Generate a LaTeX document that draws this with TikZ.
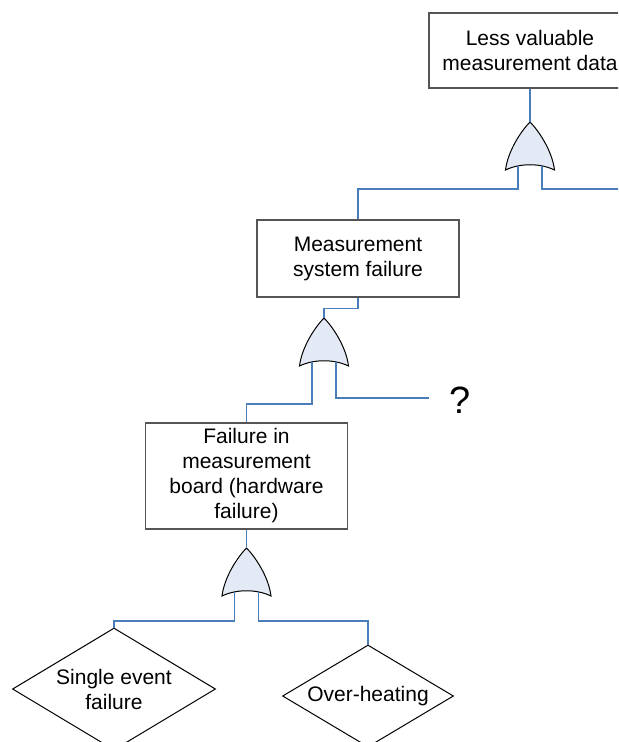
\documentclass[tikz,border=0pt]{standalone}
\usepackage{fontspec}
\setmainfont{Liberation Sans}
\usetikzlibrary{shapes.geometric}
\definecolor{wireblue}{RGB}{74,126,187}
\definecolor{gatefill}{RGB}{227,234,245}
\definecolor{boxgray}{RGB}{85,85,85}
\tikzset{
    fault event/.style={
        rectangle,
        minimum width=101pt,
        draw=boxgray,
        line width=0.6pt,
        fill=white,
        inner sep=0pt,
        align=center,
        font=\fontsize{10.5}{12.5}\selectfont
    },
    basic event/.style={
        diamond,
        aspect=1.66,
        draw=black,
        line width=0.5pt,
        fill=white,
        inner sep=0pt,
        align=center,
        font=\fontsize{10.5}{12.5}\selectfont
    },
    wire/.style={draw=wireblue, line width=0.6pt},
    qmark/.style={font=\fontsize{19}{22}\selectfont, inner sep=0pt},
    orgate/.pic={
        \draw[fill=gatefill, draw=black, line width=0.5pt]
            (0,0) .. controls (-8,8) and (-22,28) .. (-24.5,48)
            .. controls (-10,41) and (10,41) .. (24.5,48)
            .. controls (22,28) and (8,8) .. cycle;
        \coordinate (-top) at (0,0);
        \coordinate (-in1) at (-12,44);
        \coordinate (-in2) at (12,44);
    }
}

\begin{document}
\begin{tikzpicture}[x=0.5pt, y=-0.5pt]

\clip[use as bounding box] (0,0) rectangle (618,742);

% events
\node[fault event, minimum height=37.5pt] (lessdata) at (530,50.5)
    {Less valuable\\measurement data};
\node[fault event, minimum height=38.5pt] (meassys) at (358,258.5)
    {Measurement\\system failure};
\node[fault event, minimum height=53pt] (boardfail) at (246.5,476)
    {Failure in\\measurement\\board (hardware\\failure)};
\node[basic event, minimum width=101.5pt, minimum height=61pt] (single) at (114,689)
    {Single event\\failure};
\node[basic event, minimum width=85.5pt, minimum height=51pt] (overheat) at (368,696)
    {Over-heating};
\node[qmark, anchor=west] (qm) at (449,400) {?};
\coordinate (offpage) at (625,189);
\coordinate (qmend) at (429,398);

% gates
\pic (g1) at (530,122) {orgate};
\pic (g2) at (324,318) {orgate};
\pic (g3) at (246.5,548) {orgate};

% connectors
\draw[wire] (lessdata.south) -- (g1-top);
\draw[wire] (g1-in1) -- ++(0,23) -| (meassys.north);
\draw[wire] (g1-in2) |- (offpage);
\draw[wire] (meassys.south) -- ++(0,11) -| (g2-top);
\draw[wire] (g2-in1) -- ++(0,42) -| (boardfail.north);
\draw[wire] (g2-in2) |- (qmend);
\draw[wire] (boardfail.south) -- (g3-top);
\draw[wire] (g3-in1) -- ++(0,29) -| (single.north);
\draw[wire] (g3-in2) -- ++(0,29) -| (overheat.north);

\end{tikzpicture}
\end{document}
